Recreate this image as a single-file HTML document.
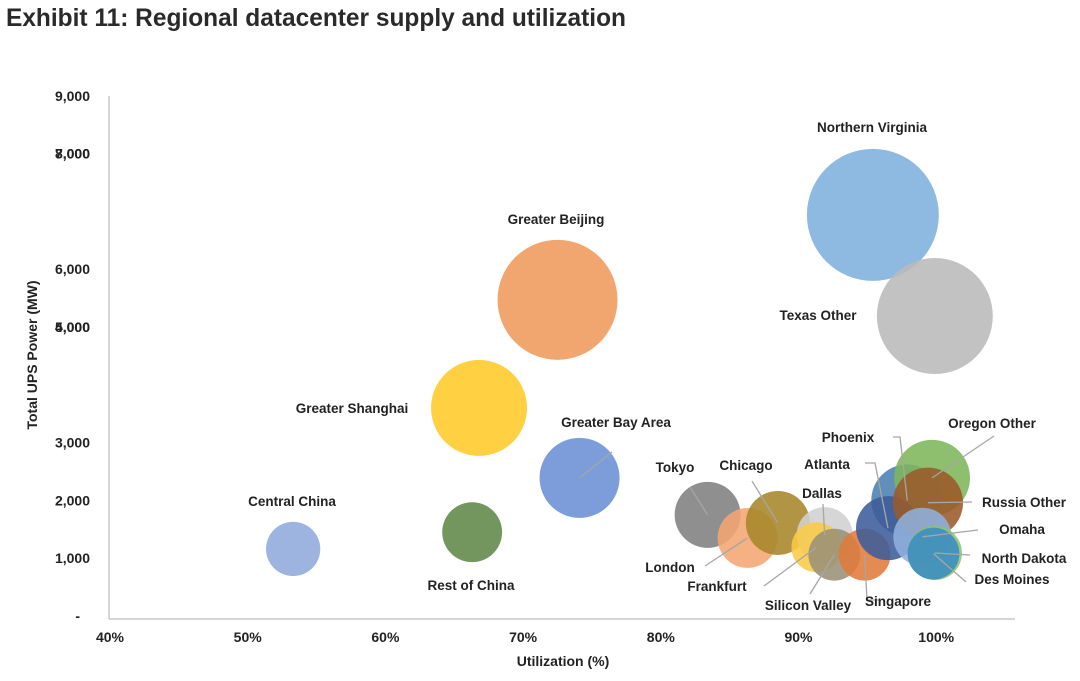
<!DOCTYPE html>
<html><head><meta charset="utf-8"><style>
html,body{margin:0;padding:0;background:#fff;}
svg{display:block;font-family:"Liberation Sans",Arial,sans-serif;}
</style></head><body>
<svg id="chart" width="1080" height="681" viewBox="0 0 1080 681">
<text x="6" y="26" font-size="25" font-weight="bold" fill="#2a2a2a" textLength="620" lengthAdjust="spacingAndGlyphs">Exhibit 11: Regional datacenter supply and utilization</text>
<g id="axes"></g>
<g id="bubbles"></g>
<g id="labels"></g>
<text transform="translate(37,355) rotate(-90)" text-anchor="middle" font-size="14" font-weight="bold" fill="#222">Total UPS Power (MW)</text>
<text x="563" y="666" text-anchor="middle" font-size="14" font-weight="bold" fill="#222">Utilization (%)</text>
</svg>
<script>
const names=["Central China","Rest of China","Greater Bay Area","Greater Shanghai","Greater Beijing","Northern Virginia","Texas Other","Tokyo","London","Chicago","Dallas","Frankfurt","Silicon Valley","Singapore","Phoenix","Oregon Other","Atlanta","Russia Other","Omaha","North Dakota","Des Moines"];
const utilization=[53.3,66.3,74.1,66.8,72.5,95.4,99.9,83.4,86.3,88.5,91.9,91.3,92.6,94.8,97.9,99.7,96.5,99.4,99.0,99.9,99.8];
const power=[1160,1450,2390,3600,5470,6940,5190,1750,1350,1610,1400,1190,1060,1060,2000,2390,1520,1960,1370,1090,1080];
const sizes=[46,56,100,144,225,272,210,68,56,64,49,39,42,42,81,90,64,77,53,46,42];
const xTicks=[40,50,60,70,80,90,100];
const yTickVals=[9000,8000,8000,6000,5000,5000,3000,2000,1000,0];
const yTickLabels=["9,000","8,000","7,000","6,000","5,000","4,000","3,000","2,000","1,000","-"];
const colors=["#8eaadb","#5f8748","#6a8fd4","#ffc928","#ef9a5c","#7eb0dd","#b9b9b9","#7f7f7f","#f4a573","#a6862a","#d0d0d0","#f9cb45","#9a9177","#e07a3a","#4a7fb0","#7db65a","#3d5c9a","#9b5a2a","#8fb0dd","#8cc56a","#3b8cc4"];
// label layout: [lx, ly, anchor, leader points or null]
const labelLayout=[
[292,506,"middle",null],[471,590,"middle",null],[616,427,"middle",[[612,452]]],[352,413,"middle",null],
[556,224,"middle",null],[872,132,"middle",null],[818,320,"middle",null],
[675,472,"middle",[[690,487]]],[670,572,"middle",[[705,566]]],[746,470,"middle",[[752,481]]],
[822,498,"middle",[[823,504]]],[717,591,"middle",[[764,586]]],[808,610,"middle",[[810,594]]],
[898,606,"middle",[[880,600],[867,600]]],[848,442,"middle",[[893,437],[900,437]]],
[992,428,"middle",[[994,436]]],[827,469,"middle",[[865,463],[875,463]]],[1024,507,"middle",[[972,502]]],
[1022,534,"middle",[[978,530]]],[1024,563,"middle",[[970,555]]],[1012,584,"middle",[[966,582]]]
];
const ns="http://www.w3.org/2000/svg";
const X=v=>110+(v-40)*13.77, Y=v=>616-v*0.0578, R=s=>4*Math.sqrt(s);
const ax=document.getElementById('axes'),bg=document.getElementById('bubbles'),lg=document.getElementById('labels');
function mk(tag,at,p){const e=document.createElementNS(ns,tag);for(const k in at)e.setAttribute(k,at[k]);p.appendChild(e);return e;}
let l=mk('line',{x1:109,y1:96,x2:109,y2:619,stroke:'#c8c8c8','stroke-width':1.5},ax);


l=mk('line',{x1:109,y1:619,x2:1015,y2:619,stroke:'#c8c8c8','stroke-width':1.5},ax);


xTicks.forEach(t=>{const e=mk('text',{x:X(t),y:642,'text-anchor':'middle','font-size':14,'font-weight':'bold',fill:'#222'},ax);e.textContent=t+'%';

});
yTickVals.forEach((t,i)=>{const e=mk('text',{x:t===0?80:90,y:Y(t)+5,'text-anchor':'end','font-size':14,'font-weight':'bold',fill:'#222'},ax);e.textContent=yTickLabels[i];

});
names.forEach((n,i)=>{
 const cx=X(utilization[i]),cy=Y(power[i]);
 const c=mk('circle',{cx:cx,cy:cy,r:R(sizes[i]),fill:colors[i],'fill-opacity':0.88},bg);
 
 
 const L=labelLayout[i];
 if(L[3]){const pts=[...L[3],[cx,cy]].map(p=>p.join(',')).join(' ');
  const pl=mk('polyline',{points:pts,fill:'none',stroke:'#a6a6a6','stroke-width':1.3},lg);
  
  }
 const t=mk('text',{x:L[0],y:L[1],'text-anchor':L[2],'font-size':13.5,'font-weight':'bold',fill:'#222'},lg);
 t.textContent=n;
 
 
});
</script>
</body></html>
